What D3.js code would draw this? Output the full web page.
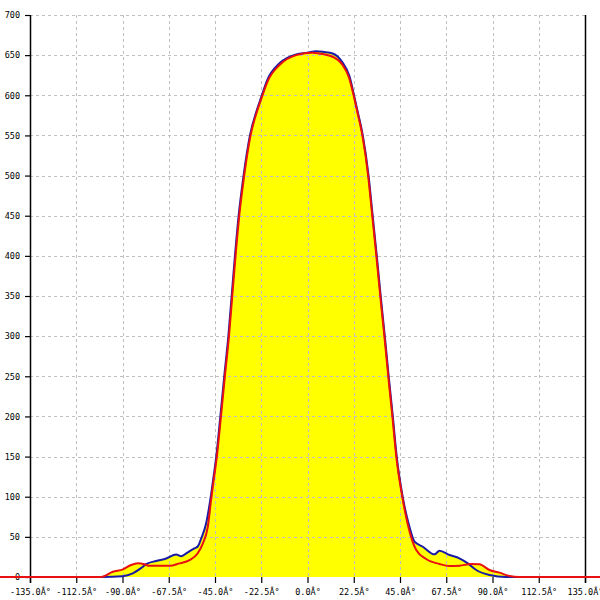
<!DOCTYPE html>
<html><head><meta charset="utf-8">
<script src="https://cdn.jsdelivr.net/npm/d3@7/dist/d3.min.js"></script>
<style>html,body{margin:0;padding:0;background:#fff;}svg{display:block;}</style>
</head><body>
<svg id="chart" width="600" height="600"></svg>
<script>
const xTicks = [-135, -112.5, -90, -67.5, -45, -22.5, 0, 22.5, 45, 67.5, 90, 112.5, 135];
const yTicks = [0, 50, 100, 150, 200, 250, 300, 350, 400, 450, 500, 550, 600, 650, 700];

const blueAngles = [-150, -100, -90, -85, -81, -78.5, -73.6, -68.7, -63.9, -61.4, -59, -55, -53.4, -51.7, -49.3, -47.3,
  -45.7, -44.4, -42.4, -40.5, -38.5, -36.9, -35.3, -33.5, -31.1, -28.0, -24.6, -22.6, -19.6, -13.6, -5.5, 0, 4.2, 8, 12.2, 17, 20.4, 22.9, 24.2,
  26.9, 29.7, 31.7, 33.7, 35.6, 37.6, 39.5, 41.5, 43.4, 46.3, 49.6, 52.1, 56.1, 61.8, 64.2, 69.1, 73.9, 78, 82.1, 88.5, 96.7, 150];
const blueValues = [0, 0, 1, 4.5, 11, 16, 20, 23, 28, 26, 29.5, 35.7, 38, 48, 67, 96,
  125, 150, 200, 250, 300, 350, 400, 450, 500, 550, 582, 597, 619, 640, 651, 653, 655, 654, 652, 641, 624, 597, 582,
  550, 500, 450, 400, 350, 300, 250, 200, 150, 100, 62.6, 44, 37.7, 28.2, 32.8, 27.4, 23.3, 17, 8.7, 2.5, 0, 0];

const redAngles = [-150, -100.4, -94.7, -89.8, -85.8, -82.5, -79.3, -76.9, -67.1, -62.3, -57.4, -53.4, -50.9, -48.5, -46.9,
  -45.4, -44.1, -42.1, -40.2, -38.2, -36.6, -35.0, -33.2, -30.8, -27.7, -24.3, -22.3, -19.3, -13.5, -5.5, 2.4, 8, 12.2, 17, 20.2, 22.7, 24.0,
  26.7, 29.5, 31.5, 33.5, 35.4, 37.4, 39.3, 41.3, 43.2, 46.1, 50.4, 52.9, 57.7, 64.2, 69.1, 73.9, 79.6, 83.7, 88.5, 93.4, 98.3, 103, 150];
const redValues = [0, 0, 6.6, 9.5, 15, 17, 15.8, 14, 14, 17, 21, 29.5, 42, 62.6, 96,
  125, 150, 200, 250, 300, 350, 400, 450, 500, 550, 582, 597, 618, 638, 650, 653, 651, 648, 638, 622, 597, 582,
  550, 500, 450, 400, 350, 300, 250, 200, 150, 100, 50, 33.6, 22.4, 16.2, 13.7, 14, 16.2, 15.8, 8.7, 5.4, 1.2, 0, 0];

const svg = d3.select("#chart");
const x = d3.scaleLinear().domain([-135, 135]).range([30, 585]);
const y = d3.scaleLinear().domain([0, 700]).range([577, 15]);

const blue = blueAngles.map((a, i) => [a, blueValues[i]]);
const red = redAngles.map((a, i) => [a, redValues[i]]);

const area = d3.area().x(d => x(d[0])).y0(y(0)).y1(d => y(d[1])).curve(d3.curveMonotoneX);
const line = d3.line().x(d => x(d[0])).y(d => y(d[1])).curve(d3.curveMonotoneX);

svg.append("path").datum(blue).attr("d", area).attr("fill", "#ffff00");
svg.append("path").datum(red).attr("d", area).attr("fill", "#ffff00");

// grid
const grid = svg.append("g").attr("stroke", "#c0c0c0").attr("stroke-width", 1).attr("stroke-dasharray", "3,3");
grid.selectAll("line.h").data(yTicks.filter(d => d > 0)).enter().append("line")
  .attr("x1", 30).attr("x2", 585).attr("y1", d => Math.round(y(d)) + 0.5).attr("y2", d => Math.round(y(d)) + 0.5);
grid.selectAll("line.v").data(xTicks.filter(d => d > -135 && d < 135)).enter().append("line")
  .attr("y1", 15).attr("y2", 577).attr("x1", d => Math.round(x(d)) + 0.5).attr("x2", d => Math.round(x(d)) + 0.5);

// axes
const xAxis = d3.axisBottom(x).tickValues(xTicks).tickSize(6).tickPadding(4)
  .tickFormat(d => d.toFixed(1) + "Â°");
const yAxis = d3.axisLeft(y).tickValues(yTicks).tickSize(5).tickPadding(5)
  .tickFormat(d3.format("d"));

const gx = svg.append("g").attr("transform", "translate(0,577)").call(xAxis);
const gy = svg.append("g").attr("transform", "translate(30,0)").call(yAxis);
[gx, gy].forEach(g => {
  g.select(".domain").remove();
  g.selectAll("line").attr("stroke", "#000").attr("stroke-width", 1.2);
  g.selectAll("text").attr("font-family", "'DejaVu Sans Mono', monospace").attr("font-size", "8.5px").attr("fill", "#000");
});
gx.selectAll("text").attr("dy", "0.95em");
// y axis line
svg.append("line").attr("x1", 30.5).attr("x2", 30.5).attr("y1", y(700)).attr("y2", 583).attr("stroke", "#000").attr("stroke-width", 1.5);
// right line
svg.append("line").attr("x1", 585.5).attr("x2", 585.5).attr("y1", y(700)).attr("y2", 583).attr("stroke", "#000").attr("stroke-width", 1.5);

// series lines
svg.append("path").datum(blue).attr("d", line).attr("fill", "none").attr("stroke", "#1a1aa8").attr("stroke-width", 2);
svg.append("path").datum(red).attr("d", line).attr("fill", "none").attr("stroke", "#e81010").attr("stroke-width", 2);
</script>
</body></html>
